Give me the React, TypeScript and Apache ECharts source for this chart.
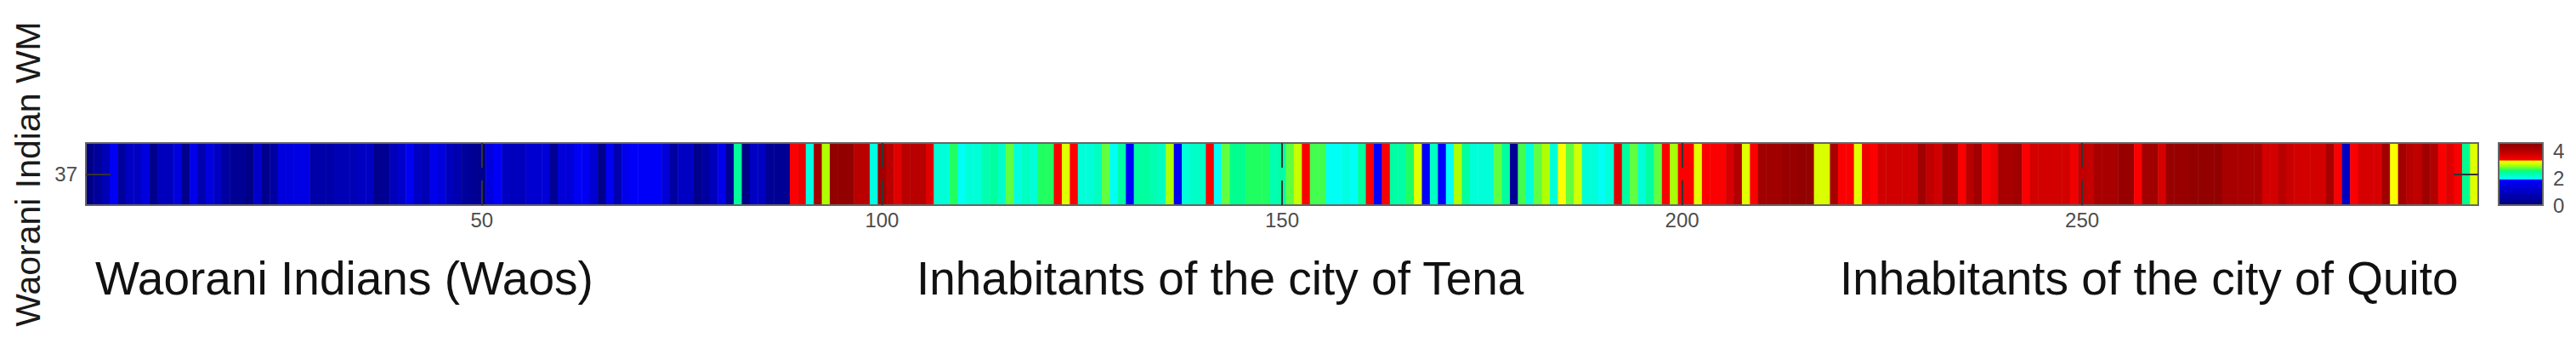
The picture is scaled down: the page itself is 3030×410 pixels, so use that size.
import React, { useEffect, useRef } from "react";
import * as echarts from "echarts";

// ---- data -------------------------------------------------------------
const rowLabels: string[] = ["37"];
const xTickValues: number[] = [50, 100, 150, 200, 250];
const legendMin = 0;
const legendMax = 4.6;
const legendInterval = 2;

// columns 1-88
const waoraniValues: number[] = [
  0.1, 0.4, 0.8, 1.7, 0.4, 1.0, 1.0, 1.4, 0.2, 0.9,
  0.9, 1.4, 0.2, 1.6, 0.7, 1.4, 1.0, 0.5, 0.3, 0.3,
  0.1, 1.1, 0.2, 0.5, 1.4, 1.4, 1.5, 1.5, 0.6, 0.6,
  0.6, 0.8, 0.8, 0.8, 1.0, 1.0, 0.2, 0.3, 0.9, 1.1,
  1.7, 1.0, 0.8, 1.6, 1.4, 0.9, 0.7, 0.4, 0.3, 0.2,
  1.4, 1.8, 1.0, 0.9, 0.9, 1.2, 1.2, 1.3, 0.3, 1.3,
  1.3, 1.7, 1.7, 1.2, 0.2, 1.7, 0.7, 1.6, 1.8, 1.8,
  1.8, 1.8, 1.3, 0.5, 1.0, 1.0, 0.2, 0.5, 0.9, 1.6,
  0.3, 2.4, 0.1, 1.0, 1.0, 0.3, 0.3, 0.3,
];

// columns 89-210
const tenaValues: number[] = [
  3.35, 3.5, 2.05, 4.3, 2.95, 4.5, 4.5, 4.5, 4.0, 4.0,
  2.05, 4.3, 4.0, 3.6, 4.0, 4.0, 4.0, 3.6, 2.1, 2.1,
  2.6, 1.95, 2.1, 2.1, 2.3, 2.38, 2.18, 2.75, 2.05, 2.22,
  2.1, 2.6, 2.6, 3.35, 3.15, 3.35, 2.1, 2.1, 2.22, 2.75,
  1.95, 2.35, 1.85, 2.38, 2.38, 2.3, 2.22, 2.95, 1.7, 2.1,
  2.18, 2.18, 3.35, 1.95, 2.75, 2.45, 2.45, 2.6, 2.6, 2.6,
  2.3, 2.35, 2.75, 3.05, 3.35, 2.68, 2.68, 1.95, 1.95, 2.05,
  1.95, 2.38, 3.35, 1.85, 3.35, 2.35, 2.35, 2.6, 3.15, 1.85,
  2.22, 1.85, 1.95, 2.95, 2.38, 2.1, 2.1, 2.1, 2.75, 2.38,
  0.3, 2.68, 2.1, 2.75, 2.95, 2.1, 3.28, 2.75, 3.08, 2.1,
  2.1, 1.95, 2.1, 3.6, 2.38, 2.75, 2.1, 2.38, 2.75, 3.35,
  2.93, 3.35, 3.35, 3.15, 3.35, 3.35, 3.35, 3.68, 4.1, 3.15,
  3.35, 4.3,
];

// columns 211-299
const quitoValues: number[] = [
  4.3, 4.3, 4.4, 4.4, 4.5, 4.5, 3.12, 3.12, 4.2, 3.35,
  3.35, 3.15, 3.45, 3.35, 3.75, 3.75, 3.75, 3.75, 3.75, 4.3,
  3.9, 3.75, 4.3, 4.3, 3.35, 4.0, 4.3, 3.35, 3.5, 4.2,
  4.2, 4.3, 3.35, 3.72, 3.72, 3.72, 3.72, 3.72, 3.45, 3.9,
  3.86, 4.2, 4.2, 4.2, 4.4, 4.4, 3.35, 4.3, 4.3, 3.7,
  4.4, 4.4, 4.4, 4.5, 4.5, 4.5, 4.5, 4.2, 4.2, 4.2,
  4.2, 4.2, 3.72, 3.72, 4.0, 3.82, 3.72, 3.72, 3.72, 3.72,
  4.2, 3.35, 1.0, 3.35, 3.68, 3.68, 3.68, 4.3, 3.28, 4.3,
  4.0, 3.9, 4.3, 4.1, 3.35, 3.6, 3.35, 2.45, 3.15,
];

const groupLabels: string[] = [
  "Waorani Indians (Waos)",
  "Inhabitants of the city of Tena",
  "Inhabitants of the city of Quito",
];

const yAxisTitle = "Waorani Indian WM";

// ---- colour scale (styling) -------------------------------------------
const colorStops: [number, string][] = [
  [0, "#000080"],
  [1.9, "#0000ff"],
  [1.9001, "#00ffff"],
  [2.1, "#00ffd8"],
  [2.3, "#00ffb0"],
  [2.45, "#00ff90"],
  [2.6, "#20ff60"],
  [2.75, "#60ff40"],
  [2.95, "#b0ff00"],
  [3.15, "#e0ff00"],
  [3.3, "#ffff00"],
  [3.3001, "#ff0000"],
  [3.6, "#e00000"],
  [3.9, "#c00000"],
  [4.2, "#a80000"],
  [4.4, "#980000"],
  [4.6, "#8c0000"],
];

function hexToRgb(h: string): number[] {
  const n = parseInt(h.slice(1), 16);
  return [(n >> 16) & 255, (n >> 8) & 255, n & 255];
}

function colorAt(v: number): string {
  for (let i = 0; i < colorStops.length - 1; i++) {
    const [a, ca] = colorStops[i];
    const [b, cb] = colorStops[i + 1];
    if (v >= a && v <= b) {
      const t = b === a ? 0 : (v - a) / (b - a);
      const A = hexToRgb(ca);
      const B = hexToRgb(cb);
      const c = A.map((x, k) => Math.round(x + (B[k] - x) * t));
      return `rgb(${c[0]},${c[1]},${c[2]})`;
    }
  }
  return colorStops[colorStops.length - 1][1];
}

function buildPalette(): string[] {
  const out: string[] = [];
  const steps = 230;
  for (let i = 0; i <= steps; i++) {
    out.push(colorAt(legendMin + ((legendMax - legendMin) * i) / steps));
  }
  return out;
}

const FONT = "'Liberation Sans', Arial, Helvetica, sans-serif";

export default function App() {
  const ref = useRef<HTMLDivElement>(null);

  useEffect(() => {
    if (!ref.current) return;
    const chart = echarts.init(ref.current, undefined, { renderer: "svg" });

    const values = [...waoraniValues, ...tenaValues, ...quitoValues];
    const categories = values.map((_, i) => String(i + 1));
    const data = values.map((v, i) => [i, 0, v]);
    const showTick = (_idx: number, val: string) => xTickValues.includes(Number(val));

    const plot = { left: 101, top: 168, width: 2814, height: 73 };
    const bar = { left: 2939, top: 168, width: 52, height: 73 };

    const xTickCommon = {
      show: true,
      inside: true,
      length: 29,
      alignWithLabel: true,
      interval: showTick,
      lineStyle: { color: "#333333", width: 2 },
    };

    chart.setOption({
      animation: false,
      backgroundColor: "#ffffff",
      grid: [
        {
          ...plot,
          show: true,
          z: 10,
          backgroundColor: "transparent",
          borderColor: "#666666",
          borderWidth: 2,
        },
        {
          ...bar,
          show: true,
          z: 10,
          backgroundColor: "transparent",
          borderColor: "#666666",
          borderWidth: 2,
        },
      ],
      xAxis: [
        {
          type: "category",
          gridIndex: 0,
          data: categories,
          position: "bottom",
          z: 12,
          axisLine: { show: false },
          axisTick: xTickCommon,
          axisLabel: {
            show: true,
            interval: showTick,
            margin: 5,
            fontSize: 24,
            color: "#4d4d4d",
            fontFamily: FONT,
          },
          splitLine: { show: false },
        },
        {
          type: "category",
          gridIndex: 0,
          data: categories,
          position: "top",
          z: 12,
          axisLine: { show: false },
          axisTick: xTickCommon,
          axisLabel: { show: false },
          splitLine: { show: false },
        },
        { type: "category", gridIndex: 1, show: false, data: ["c"] },
      ],
      yAxis: [
        {
          type: "category",
          gridIndex: 0,
          data: rowLabels,
          position: "left",
          z: 12,
          name: yAxisTitle,
          nameLocation: "middle",
          nameRotate: 90,
          nameGap: 40,
          nameTextStyle: { fontSize: 41, color: "#1a1a1a", fontFamily: FONT },
          axisLine: { show: false },
          axisTick: {
            show: true,
            inside: true,
            length: 29,
            alignWithLabel: true,
            lineStyle: { color: "#333333", width: 2 },
          },
          axisLabel: { margin: 10, fontSize: 24, color: "#4d4d4d", fontFamily: FONT },
          splitLine: { show: false },
        },
        {
          type: "category",
          gridIndex: 0,
          data: rowLabels,
          position: "right",
          z: 12,
          axisLine: { show: false },
          axisTick: {
            show: true,
            inside: true,
            length: 29,
            alignWithLabel: true,
            lineStyle: { color: "#333333", width: 2 },
          },
          axisLabel: { show: false },
          splitLine: { show: false },
        },
        {
          type: "value",
          gridIndex: 1,
          position: "right",
          min: legendMin,
          max: legendMax,
          interval: legendInterval,
          axisLine: { show: false },
          axisTick: { show: false },
          splitLine: { show: false },
          axisLabel: {
            showMaxLabel: false,
            margin: 12,
            fontSize: 24,
            color: "#4d4d4d",
            fontFamily: FONT,
          },
        },
      ],
      visualMap: {
        type: "continuous",
        seriesIndex: 0,
        min: legendMin,
        max: legendMax,
        calculable: false,
        orient: "vertical",
        left: bar.left,
        top: bar.top,
        itemWidth: bar.width,
        itemHeight: bar.height,
        padding: 0,
        inRange: { color: buildPalette() },
      },
      series: [
        {
          type: "heatmap",
          xAxisIndex: 0,
          yAxisIndex: 0,
          data,
          progressive: 0,
          itemStyle: { borderWidth: 0 },
          emphasis: { disabled: true },
        },
        {
          type: "scatter",
          xAxisIndex: 2,
          yAxisIndex: 2,
          data: [],
        },
      ],
      graphic: [
        {
          type: "text",
          left: 112,
          top: 299,
          style: { text: groupLabels[0], fontSize: 55, fill: "#111111", fontFamily: FONT },
        },
        {
          type: "text",
          left: 1078,
          top: 299,
          style: { text: groupLabels[1], fontSize: 55, fill: "#111111", fontFamily: FONT },
        },
        {
          type: "text",
          left: 2164,
          top: 299,
          style: { text: groupLabels[2], fontSize: 55, fill: "#111111", fontFamily: FONT },
        },
      ],
    });

    return () => chart.dispose();
  }, []);

  return (
    <div
      ref={ref}
      style={{ position: "fixed", left: 0, top: 0, width: 3030, height: 410, background: "#fff" }}
    />
  );
}
